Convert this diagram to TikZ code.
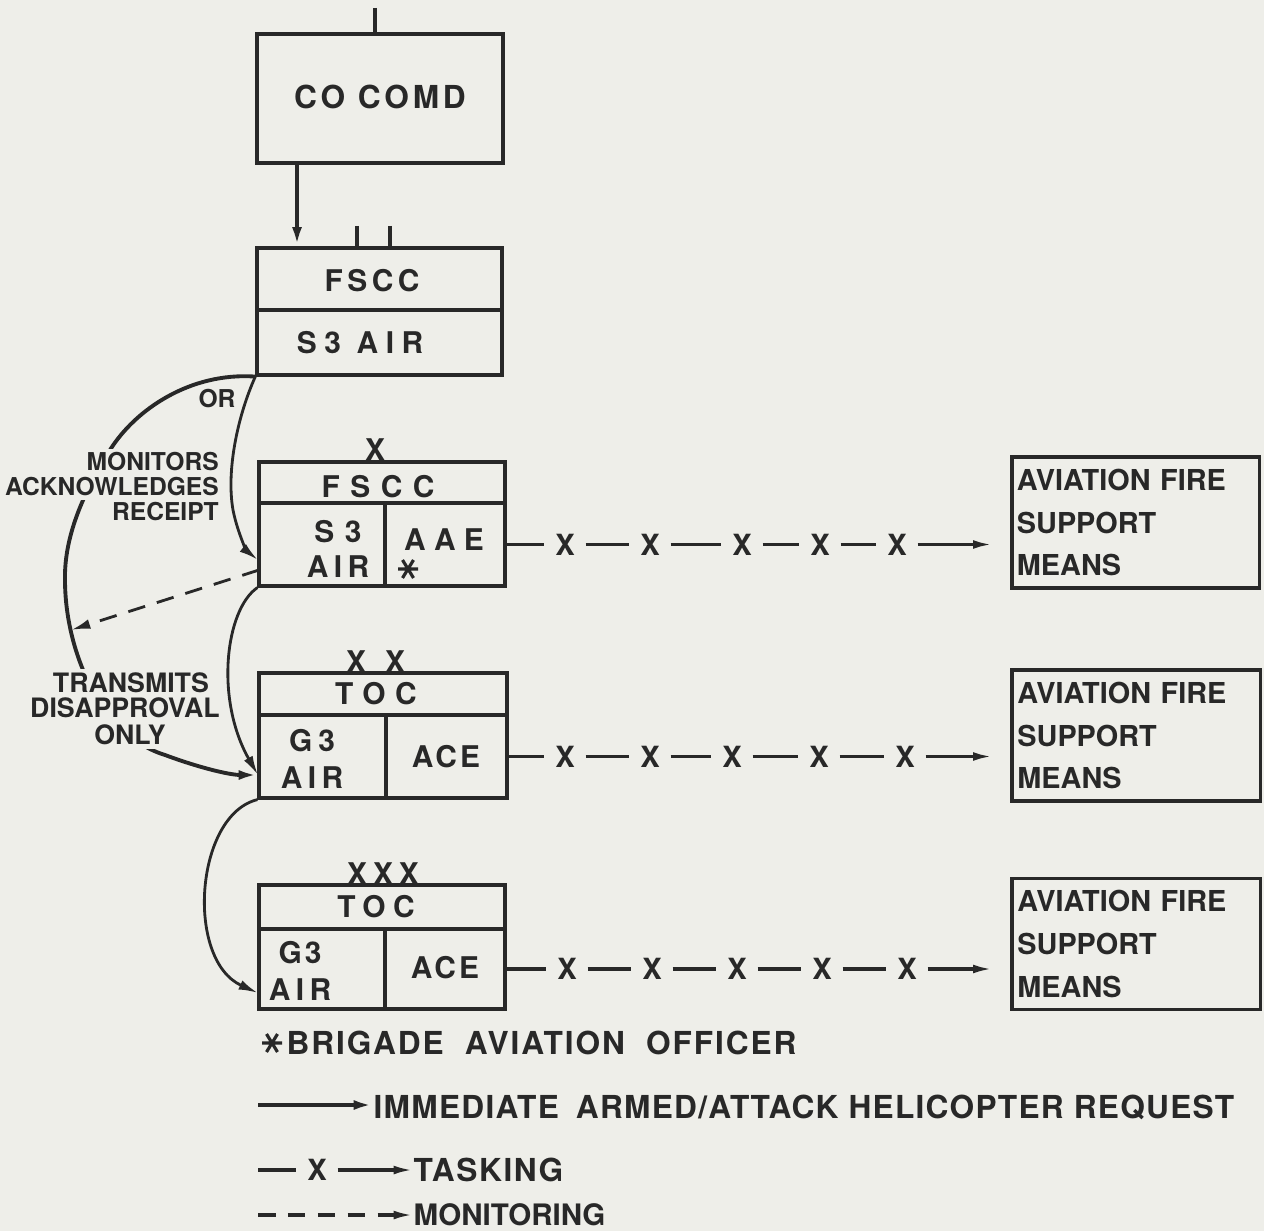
\documentclass[tikz,border=0pt]{standalone}
\usepackage{fontspec}
\setmainfont{TeX Gyre Heros}
\usetikzlibrary{arrows.meta}
\definecolor{bg}{RGB}{238,238,233}
\definecolor{ink}{RGB}{40,40,40}
\newcommand\LS[2]{{\addfontfeature{LetterSpace=#1}#2}}
\begin{document}
\begin{tikzpicture}[x=0.01cm,y=-0.01cm,color=ink,
  cell/.style={draw=ink,line width=0.9pt,inner sep=0pt},
  lbl/.style={font=\bfseries\fontsize{8.5}{10}\selectfont,inner sep=0pt},
  big/.style={font=\bfseries\fontsize{9}{10}\selectfont,inner sep=0pt},
  lab/.style={font=\bfseries\fontsize{7}{8}\selectfont,fill=bg,inner sep=1pt},
  labb/.style={font=\bfseries\fontsize{7.6}{8}\selectfont,fill=bg,inner sep=1pt},
  leg/.style={font=\bfseries\fontsize{9}{10}\selectfont,inner sep=0pt},
  xm/.style={font=\bfseries\fontsize{8.3}{10}\selectfont,minimum width=0.4cm,inner sep=0pt},
  afbox/.style={draw=ink,line width=0.9pt,align=left,text width=2.37cm,inner xsep=0.05cm,
     font=\bfseries\fontsize{8.2}{12.2}\selectfont},
  conn/.style={draw=ink,line width=1.1pt},
  conn2/.style={draw=ink,line width=0.8pt},
  task/.style={draw=ink,line width=0.9pt},
  tip/.style={-{Latex[length=5.5pt,width=2.8pt]}},
  ttip/.style={-{Latex[length=5.5pt,width=2.5pt]}},
  dsh/.style={dash pattern=on 5pt off 3.5pt},
  astk/.pic={\draw[line width=0.9pt] (-10,0)--(10,0) (-5.5,-9)--(5.5,9) (-5.5,9)--(5.5,-9);}
]
\fill[bg] (0,0) rectangle (1264,1231);
\useasboundingbox (0,0) rectangle (1264,1231);

% ---------- boxes ----------
\node[cell,minimum width=2.46cm,minimum height=1.29cm] (co) at (380,98.5) {};
\node[cell,minimum width=2.45cm,minimum height=0.62cm] (f1t) at (379.5,279) {};
\node[cell,minimum width=2.45cm,minimum height=0.65cm] (f1b) at (379.5,342.5) {};

\node[cell,minimum width=2.46cm,minimum height=0.41cm] (b2t) at (382,482.5) {};
\node[cell,minimum width=1.26cm,minimum height=0.83cm] (b2l) at (322,544.5) {};
\node[cell,minimum width=1.20cm,minimum height=0.83cm] (b2r) at (445,544.5) {};

\node[cell,minimum width=2.48cm,minimum height=0.42cm] (b3t) at (383,694) {};
\node[cell,minimum width=1.27cm,minimum height=0.83cm] (b3l) at (322.5,756.5) {};
\node[cell,minimum width=1.21cm,minimum height=0.83cm] (b3r) at (446.5,756.5) {};

\node[cell,minimum width=2.46cm,minimum height=0.44cm] (b4t) at (382,907) {};
\node[cell,minimum width=1.26cm,minimum height=0.80cm] (b4l) at (322,969) {};
\node[cell,minimum width=1.20cm,minimum height=0.80cm] (b4r) at (445,969) {};

\node[afbox,minimum width=2.47cm,minimum height=1.25cm] (afA) at (1135.5,522.5) {AVIATION FIRE\\SUPPORT\\MEANS};
\node[afbox,minimum width=2.48cm,minimum height=1.25cm] (afB) at (1136,735.5) {AVIATION FIRE\\SUPPORT\\MEANS};
\node[afbox,minimum width=2.48cm,minimum height=1.26cm] (afC) at (1136,944) {AVIATION FIRE\\SUPPORT\\MEANS};

% ---------- box texts ----------
\node[big] (tco) at (380,97) {\LS{12}{CO COMD}};
\node[lbl] (tf1t) at (372,281) {\LS{15}{FSCC}};
\node[lbl] (tf1b) at (360,343) {\LS{25}{S3 AIR}};
\node[lbl] (tb2t) at (378,487) {\LS{35}{FSCC}};
\node[lbl] (tb2s) at (338,532) {\LS{35}{S3}};
\node[lbl] (tb2a) at (338,567) {\LS{18}{AIR}};
\node[lbl] (tb2r) at (444,540) {\LS{28}{AAE}};
\pic at (408,569) {astk};
\node[lbl] (tb3t) at (376,694) {\LS{32}{TOC}};
\node[lbl] (tb3g) at (312,741) {\LS{20}{G3}};
\node[lbl] (tb3a) at (312,778) {\LS{18}{AIR}};
\node[lbl] (tb3r) at (446,757) {\LS{10}{ACE}};
\node[lbl] (tb4t) at (376,907) {\LS{25}{TOC}};
\node[lbl] (tb4g) at (300,953) {\LS{10}{G3}};
\node[lbl] (tb4a) at (300,990) {\LS{18}{AIR}};
\node[lbl] (tb4r) at (445,968) {\LS{10}{ACE}};

% ---------- echelon marks ----------
\node[lbl,anchor=base] (e2) at (375,461) {X};
\node[lbl,anchor=base] (e3a) at (356,672) {X};
\node[lbl,anchor=base] (e3b) at (395,672) {X};
\node[lbl,anchor=base] (e4) at (383,884) {\LS{20}{XXX}};

% ---------- ticks ----------
\coordinate (tt) at (375,8);
\draw[line width=0.9pt] (tt) -- (tt |- co.north);
\coordinate (tk1) at (357,226);
\coordinate (tk2) at (390,226);
\draw[line width=0.9pt] (tk1) -- (tk1 |- f1t.north);
\draw[line width=0.9pt] (tk2) -- (tk2 |- f1t.north);

% ---------- main request arrows ----------
\coordinate (cs) at (297,163);
\draw[conn,tip] (cs) -- (cs |- f1t.north);

\coordinate (s3in) at (258,560);
\coordinate (dsh0) at (259,570);
\coordinate (arcpt) at (71,630);
\coordinate (g3in) at (258,775);
\coordinate (g3inb) at (258,993);

\draw[conn,tip] (f1b.south west) .. controls (190,372) and (135,410) .. (110,450)
   .. controls (85,490) and (64,535) .. (65,580)
   .. controls (65,650) and (100,735) .. (165,755)
   .. controls (200,768) and (230,775) .. (g3in);
\draw[conn2,tip] (f1b.south west) .. controls (238,415) and (226,470) .. (233,510)
   .. controls (238,535) and (248,552) .. (s3in);
\draw[conn2,tip] (b2l.south west) .. controls (225,610) and (215,700) .. (g3in);
\draw[conn2,tip] (b3l.south west) .. controls (195,815) and (185,960) .. (g3inb);
\draw[conn2,dsh,tip] (dsh0) -- (arcpt);

% ---------- side labels ----------
\node[lab,anchor=east] (lm1) at (223,462) {MONITORS};
\node[lab,anchor=east] (lm2) at (223,487) {ACKNOWLEDGES};
\node[lab,anchor=east] (lm3) at (223,512) {RECEIPT};
\node[labb] (lt1) at (131,683) {TRANSMITS};
\node[labb] (lt2) at (125,708) {DISAPPROVAL};
\node[labb] (lt3) at (130,735) {ONLY};
\node[font=\bfseries\fontsize{7}{8}\selectfont,inner sep=0pt] (lor) at (217,399) {OR};

% ---------- tasking rows ----------
\foreach \r/\y/\a/\b/\c/\d/\e/\src/\dst in
   {1/544.5/565/650/742/820/897/b2r/afA,
    2/756.5/565/650/732/819/905/b3r/afB,
    3/969/567/652/737/822/907/b4r/afC}{
  \node[xm] (r\r x1) at (\a,\y) {X};
  \node[xm] (r\r x2) at (\b,\y) {X};
  \node[xm] (r\r x3) at (\c,\y) {X};
  \node[xm] (r\r x4) at (\d,\y) {X};
  \node[xm] (r\r x5) at (\e,\y) {X};
  \draw[task] (\src.east) -- (r\r x1);
  \draw[task] (r\r x1) -- (r\r x2);
  \draw[task] (r\r x2) -- (r\r x3);
  \draw[task] (r\r x3) -- (r\r x4);
  \draw[task] (r\r x4) -- (r\r x5);
  \draw[task,ttip,shorten >=0.18cm] (r\r x5) -- (r\r x5 -| \dst.west);
}

% ---------- legend ----------
\pic at (272,1043) {astk};
\node[leg,anchor=west] (lgB) at (286,1043) {\LS{6}{BRIGADE\hspace{3pt} AVIATION\hspace{3pt} OFFICER}};
\coordinate (lg1) at (258,1105);
\node[leg,anchor=west] (lgI) at (373,1107) {\LS{4}{IMMEDIATE\hspace{2pt} ARMED/ATTACK HELICOPTER REQUEST}};
\draw[conn,tip] (lg1) -- (lg1 -| lgI.west);
\coordinate (lg2) at (258,1170);
\node[xm] (lgX) at (317,1170) {X};
\node[leg,anchor=west] (lgT) at (413,1170) {\LS{5}{TASKING}};
\draw[task] (lg2) -- (lgX);
\draw[task,ttip] (lgX) -- (lgT.west);
\coordinate (lg3) at (258,1215);
\node[leg,anchor=west,font=\bfseries\fontsize{8.4}{10}\selectfont] (lgM) at (413,1215) {MONITORING};
\draw[task,dsh,ttip] (lg3) -- (lg3 -| lgM.west);
\end{tikzpicture}
\end{document}
